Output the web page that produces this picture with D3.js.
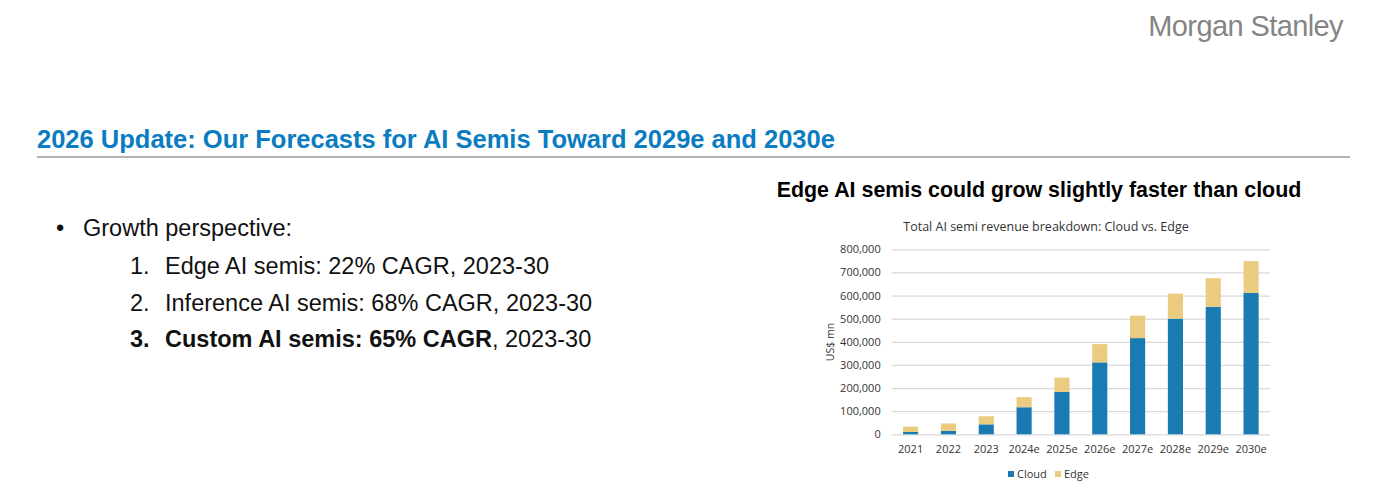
<!DOCTYPE html>
<html>
<head>
<meta charset="utf-8">
<script src="https://cdn.jsdelivr.net/npm/d3@7"></script>
<style>
  html, body { margin: 0; padding: 0; background: #ffffff; }
  svg { display: block; }
</style>
</head>
<body>
<script>
const categories = ["2021","2022","2023","2024e","2025e","2026e","2027e","2028e","2029e","2030e"];
const cloudValues = [10000, 15000, 43000, 117000, 183000, 311000, 416000, 500000, 551000, 611000];
const edgeValues  = [23000, 32000, 35000, 44000, 62000, 79000, 97000, 108000, 124000, 138000];
const yTicks = [0, 100000, 200000, 300000, 400000, 500000, 600000, 700000, 800000];
const seriesNames = ["Cloud", "Edge"];
const bulletItems = [
  { num: "1.", bold: "", rest: "Edge AI semis: 22% CAGR, 2023-30" },
  { num: "2.", bold: "", rest: "Inference AI semis: 68% CAGR, 2023-30" },
  { num: "3.", bold: "Custom AI semis: 65% CAGR", rest: ", 2023-30" }
];

const W = 1379, H = 501;
const svg = d3.select("body").append("svg").attr("width", W).attr("height", H);
const sans = "Liberation Sans, Arial, sans-serif";
const chartFont = "Open Sans, Lato, sans-serif";

// Logo
svg.append("text").attr("x", 1343).attr("y", 36).attr("text-anchor", "end")
  .attr("font-family", sans).attr("font-size", 29).attr("fill", "#858585")
  .attr("letter-spacing", -0.6).text("Morgan Stanley");

// Slide title
svg.append("text").attr("x", 37).attr("y", 148)
  .attr("font-family", sans).attr("font-weight", "bold").attr("font-size", 25.5)
  .attr("fill", "#0a7cc1").text("2026 Update: Our Forecasts for AI Semis Toward 2029e and 2030e");
svg.append("rect").attr("x", 37).attr("y", 156).attr("width", 1313).attr("height", 2).attr("fill", "#b4b4b4");

// Bullet list
const fs = 23.5;
svg.append("text").attr("x", 56).attr("y", 236).attr("font-family", sans).attr("font-size", fs)
  .attr("fill", "#111").text("•");
svg.append("text").attr("x", 83).attr("y", 236).attr("font-family", sans).attr("font-size", fs)
  .attr("fill", "#111").text("Growth perspective:");
bulletItems.forEach((it, i) => {
  const y = 274 + i * 36.7;
  const bold = i === 2;
  svg.append("text").attr("x", 130).attr("y", y).attr("font-family", sans).attr("font-size", fs)
    .attr("font-weight", bold ? "bold" : "normal").attr("fill", "#111").text(it.num);
  const t = svg.append("text").attr("x", 165).attr("y", y).attr("font-family", sans).attr("font-size", fs).attr("fill", "#111");
  if (it.bold) t.append("tspan").attr("font-weight", "bold").text(it.bold);
  t.append("tspan").text(it.rest);
});

// Chart heading
svg.append("text").attr("x", 1039).attr("y", 197).attr("text-anchor", "middle")
  .attr("font-family", sans).attr("font-weight", "bold").attr("font-size", 21.4)
  .attr("fill", "#000").text("Edge AI semis could grow slightly faster than cloud");

// Chart
const x = d3.scaleBand().domain(categories).range([891.7, 1270]).paddingInner(0.6).paddingOuter(0.3);
const y = d3.scaleLinear().domain([0, 800000]).range([434.3, 249.3]);

svg.append("text").attr("x", 1046).attr("y", 231).attr("text-anchor", "middle")
  .attr("font-family", chartFont).attr("font-size", 12.5).attr("fill", "#333")
  .text("Total AI semi revenue breakdown: Cloud vs. Edge");

// gridlines
const yAxis = d3.axisLeft(y).tickValues(yTicks).tickSize(-(1270 - 891.7)).tickPadding(11)
  .tickFormat(d3.format(","));
const gy = svg.append("g").attr("transform", "translate(891.7,0)").call(yAxis);
gy.select(".domain").remove();
gy.selectAll(".tick line").attr("stroke", "#d9d9d9").attr("stroke-width", 1.2);
gy.selectAll(".tick text").attr("font-family", chartFont).attr("font-size", 11).attr("fill", "#333");

const stackData = categories.map((c, i) => ({ cat: c, Cloud: cloudValues[i], Edge: edgeValues[i] }));
const stack = d3.stack().keys(seriesNames)(stackData);
const colors = { Cloud: "#1a7bb3", Edge: "#eacb80" };

stack.forEach(layer => {
  svg.append("g").selectAll("rect").data(layer).join("rect")
    .attr("x", d => x(d.data.cat))
    .attr("width", x.bandwidth())
    .attr("y", d => y(d[1]))
    .attr("height", d => y(d[0]) - y(d[1]))
    .attr("fill", colors[layer.key]);
});

const xAxis = d3.axisBottom(x).tickSize(0).tickPadding(11);
const gx = svg.append("g").attr("transform", "translate(0,434.3)").call(xAxis);
gx.select(".domain").remove();
gx.selectAll(".tick text").attr("font-family", chartFont).attr("font-size", 11).attr("fill", "#333");

// Y axis title
svg.append("text").attr("transform", "translate(834,342) rotate(-90)").attr("text-anchor", "middle")
  .attr("font-family", chartFont).attr("font-size", 10.5).attr("fill", "#333").text("US$ mn");

// Legend
const legX = [1008, 1055];
seriesNames.forEach((s, i) => {
  svg.append("rect").attr("x", legX[i]).attr("y", 471).attr("width", 6).attr("height", 6).attr("fill", colors[s]);
  svg.append("text").attr("x", legX[i] + 9).attr("y", 478).attr("font-family", chartFont)
    .attr("font-size", 11).attr("fill", "#333").text(s);
});
</script>
</body>
</html>
